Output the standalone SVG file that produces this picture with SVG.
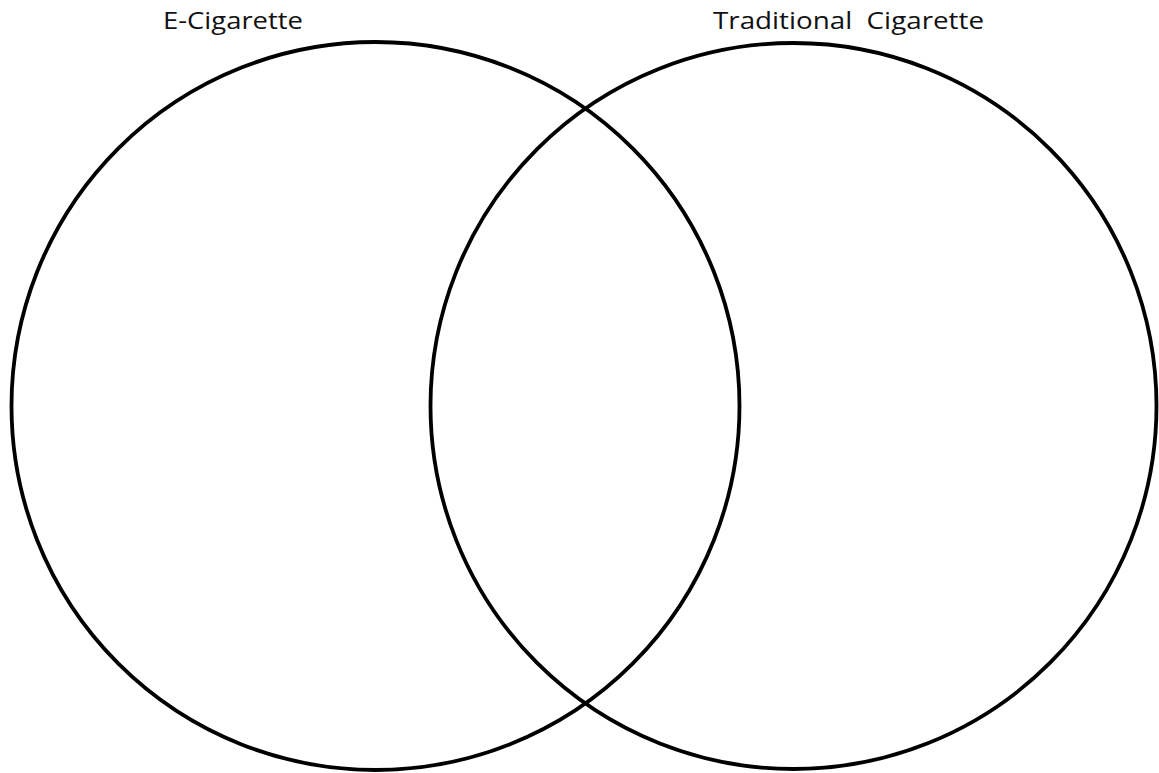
<svg xmlns="http://www.w3.org/2000/svg" width="1159" height="773" viewBox="0 0 1159 773">
<style>
.c{fill:none;stroke:#000;stroke-width:3.8}
.t{font-family:"Open Sans","Liberation Sans",sans-serif;font-size:24px;fill:#111}
</style>
<rect width="1159" height="773" fill="#fff"/>
<g id="ecig">
<circle class="c" cx="375.5" cy="406" r="364"/>
<text class="t" x="163" y="29" textLength="140" lengthAdjust="spacingAndGlyphs">E-Cigarette</text>
</g>
<g id="trad">
<circle class="c" cx="793.5" cy="406" r="363"/>
<text class="t" x="713" y="29" textLength="271" lengthAdjust="spacingAndGlyphs" xml:space="preserve">Traditional  Cigarette</text>
</g>
<g id="connectors"/>
</svg>
